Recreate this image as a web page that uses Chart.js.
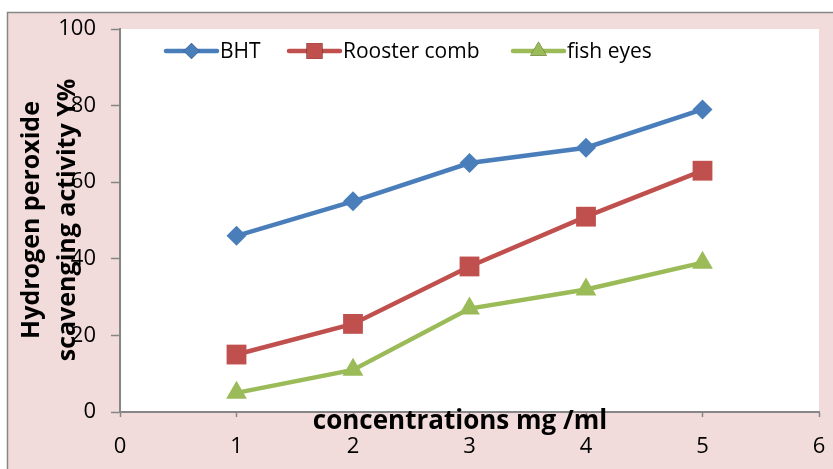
<!DOCTYPE html>
<html>
<head>
<meta charset="utf-8">
<script src="https://cdn.jsdelivr.net/npm/chart.js@4/dist/chart.umd.min.js"></script>
<style>
  html, body { margin: 0; padding: 0; background: #ffffff; }
  canvas { display: block; }
</style>
</head>
<body>
<canvas id="c" width="833" height="469"></canvas>
<script>
// Concentrations (mg/ml) and scavenging activity (%) per sample
const concentrations = [1, 2, 3, 4, 5];
const bht = [46, 55, 65, 69, 79];
const roosterComb = [15, 23, 38, 51, 63];
const fishEyes = [5, 11, 27, 32, 39];
const xTicks = [0, 1, 2, 3, 4, 5, 6];
const yTicks = [0, 20, 40, 60, 80, 100];

const FONT = "'Open Sans', 'Liberation Sans', sans-serif";
const AXIS_GREY = '#868686';
const PANEL_PINK = '#F2DCDB';

const series = [
  { label: 'BHT', values: bht, color: '#4A7EBB', style: 'rectRot', radius: 10 },
  { label: 'Rooster comb', values: roosterComb, color: '#C0504D', style: 'rect', radius: 14 },
  { label: 'fish eyes', values: fishEyes, color: '#9BBB59', style: 'triangle', radius: 12 }
];

const datasets = series.map(s => ({
  label: s.label,
  data: concentrations.map((c, i) => ({ x: c, y: s.values[i] })),
  borderColor: s.color,
  backgroundColor: s.color,
  borderWidth: 4.5,
  pointStyle: s.style,
  pointRadius: s.radius,
  pointHoverRadius: s.radius,
  pointBorderWidth: 0,
  tension: 0
}));

// Pink panel with grey frame behind a white plot area
const panelPlugin = {
  id: 'panel',
  beforeDraw(chart) {
    const { ctx, chartArea: a } = chart;
    ctx.save();
    ctx.fillStyle = '#ffffff';
    ctx.fillRect(0, 0, chart.width, chart.height);
    ctx.fillStyle = PANEL_PINK;
    ctx.fillRect(7, 12, chart.width - 7, chart.height - 12);
    ctx.strokeStyle = AXIS_GREY;
    ctx.lineWidth = 1.5;
    ctx.beginPath();
    ctx.moveTo(7.5, chart.height);
    ctx.lineTo(7.5, 12.5);
    ctx.lineTo(chart.width, 12.5);
    ctx.stroke();
    ctx.fillStyle = '#ffffff';
    ctx.fillRect(a.left, a.top, a.right - a.left, a.bottom - a.top);
    ctx.restore();
  }
};

// Legend row and axis titles, drawn on top of the plot
const overlayPlugin = {
  id: 'overlay',
  afterDraw(chart) {
    const { ctx } = chart;
    ctx.save();
    // legend
    const legendY = 51;
    const starts = [166, 289, 513];
    chart.data.datasets.forEach((ds, i) => {
      const x0 = starts[i];
      const lineLen = 51;
      ctx.strokeStyle = ds.borderColor;
      ctx.lineWidth = 4.5;
      ctx.lineCap = 'round';
      ctx.beginPath();
      ctx.moveTo(x0, legendY);
      ctx.lineTo(x0 + lineLen, legendY);
      ctx.stroke();
      Chart.helpers.drawPoint(ctx, {
        pointStyle: ds.pointStyle,
        radius: ds.pointRadius * 0.8,
        borderWidth: 0,
        rotation: 0
      }, x0 + lineLen / 2, legendY);
      ctx.fillStyle = ds.backgroundColor;
      ctx.fill();
      ctx.fillStyle = '#000000';
      ctx.font = '21px ' + FONT;
      ctx.textAlign = 'left';
      ctx.textBaseline = 'middle';
      ctx.fillText(ds.label, x0 + lineLen + 3, legendY + 1);
    });

    // x axis title
    ctx.fillStyle = '#000000';
    ctx.font = 'bold 26px ' + FONT;
    ctx.textAlign = 'center';
    ctx.textBaseline = 'middle';
    ctx.fillText('concentrations mg /ml', 460, 422);

    // y axis title, two rotated lines
    ctx.translate(50, 220);
    ctx.rotate(-Math.PI / 2);
    ctx.font = 'bold 25px ' + FONT;
    ctx.fillText('Hydrogen peroxide', 0, -18);
    ctx.fillText('scavenging activity Y%', 0, 18);
    ctx.restore();
  }
};

new Chart(document.getElementById('c'), {
  type: 'line',
  data: { datasets },
  options: {
    responsive: false,
    animation: false,
    layout: { padding: { left: 0, right: 11, top: 29, bottom: 0 } },
    plugins: {
      legend: { display: false },
      tooltip: { enabled: false },
      title: { display: false }
    },
    scales: {
      x: {
        type: 'linear',
        min: 0,
        max: 6,
        afterBuildTicks(scale) { scale.ticks = xTicks.map(v => ({ value: v })); },
        afterFit(scale) {
          scale.height = 57;
          scale.paddingLeft = 0;
          scale.paddingRight = 0;
        },
        ticks: {
          color: '#000000',
          font: { family: FONT, size: 22 },
          padding: 17,
          maxRotation: 0
        },
        grid: {
          drawOnChartArea: false,
          drawTicks: true,
          tickLength: 5,
          tickColor: AXIS_GREY,
          tickWidth: 1.5
        },
        border: { color: AXIS_GREY, width: 2 }
      },
      y: {
        type: 'linear',
        min: 0,
        max: 100,
        afterBuildTicks(scale) { scale.ticks = yTicks.map(v => ({ value: v })); },
        afterFit(scale) {
          scale.width = 120;
          scale.paddingTop = 0;
          scale.paddingBottom = 0;
        },
        ticks: {
          color: '#000000',
          font: { family: FONT, size: 22 },
          padding: 15
        },
        grid: {
          drawOnChartArea: false,
          drawTicks: true,
          tickLength: 9,
          tickColor: AXIS_GREY,
          tickWidth: 1.5
        },
        border: { color: AXIS_GREY, width: 2 }
      }
    }
  },
  plugins: [panelPlugin, overlayPlugin]
});
</script>
</body>
</html>
